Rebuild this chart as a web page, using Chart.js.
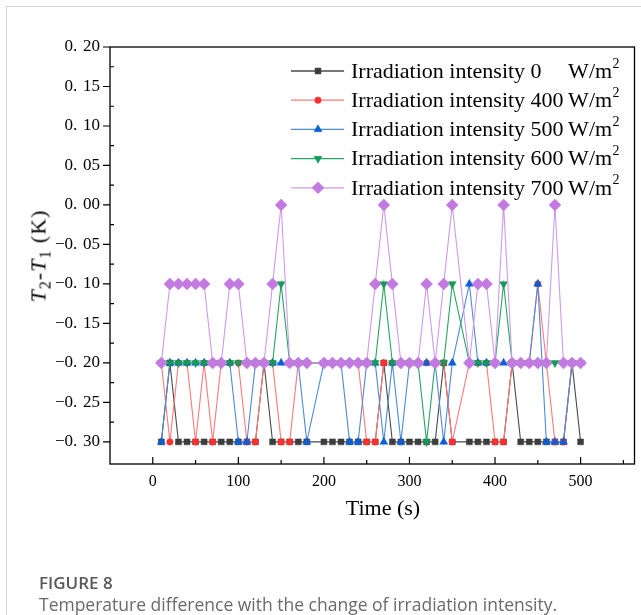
<!DOCTYPE html>
<html>
<head>
<meta charset="utf-8">
<script src="https://cdn.jsdelivr.net/npm/chart.js@4.4.0/dist/chart.umd.min.js"></script>
<style>
  body { margin: 0; background: #fff; }
  #wrap { position: relative; width: 641px; height: 615px; overflow: hidden; background: #fff; }
  #frame { position: absolute; left: 6px; top: 6px; right: -2px; bottom: -2px; border-left: 1px solid #d4d4d4; border-top: 1px solid #d4d4d4; }
  canvas { position: absolute; left: 0; top: 0; }
  .serif { font-family: "Liberation Serif", "Times New Roman", serif; color: #000; position: absolute; white-space: nowrap; }
  #ytitle { left: 40px; top: 256px; font-size: 22px; letter-spacing: 1px; transform: translate(-50%, -50%) rotate(-90deg); }
  #ytitle sub { font-size: 16px; vertical-align: -5px; }
  #xtitle { left: 383px; top: 508px; font-size: 22px; transform: translate(-50%, -50%); }
  #fig { position: absolute; left: 39px; top: 571px; font-family: "Open Sans", sans-serif; font-size: 17px; font-weight: 600; color: #595959; }
  #cap { position: absolute; left: 39px; top: 592px; font-family: "Open Sans", sans-serif; font-size: 17.5px; color: #6a6a6a; white-space: nowrap; }
</style>
</head>
<body>
<div id="wrap">
  <div id="frame"></div>
  <canvas id="chart" width="641" height="615"></canvas>
  <div id="ytitle" class="serif"><i>T</i><sub>2</sub>-<i>T</i><sub>1</sub> (K)</div>
  <div id="xtitle" class="serif">Time (s)</div>
  <div id="fig">FIGURE 8</div>
  <div id="cap">Temperature difference with the change of irradiation intensity.</div>
</div>
<script>
// sample times (s) - no samples at 190 and 360
const times = [10, 20, 30, 40, 50, 60, 70, 80, 90, 100, 110, 120, 130, 140, 150, 160, 170, 180,
  200, 210, 220, 230, 240, 250, 260, 270, 280, 290, 300, 310, 320, 330, 340, 350,
  370, 380, 390, 400, 410, 420, 430, 440, 450, 460, 470, 480, 490, 500];

const irr0 = [-0.3, -0.2, -0.3, -0.3, -0.3, -0.3, -0.3, -0.3, -0.3, -0.3, -0.3, -0.3, -0.2, -0.3, -0.3, -0.3, -0.3, -0.3,
  -0.3, -0.3, -0.3, -0.3, -0.3, -0.3, -0.3, -0.2, -0.3, -0.3, -0.3, -0.3, -0.3, -0.3, -0.2, -0.3,
  -0.3, -0.3, -0.3, -0.3, -0.3, -0.2, -0.3, -0.3, -0.3, -0.3, -0.3, -0.3, -0.2, -0.3];
const irr400 = [-0.2, -0.3, -0.2, -0.2, -0.3, -0.2, -0.3, -0.2, -0.2, -0.2, -0.3, -0.3, -0.2, -0.2, -0.3, -0.3, -0.2, -0.2,
  -0.2, -0.2, -0.2, -0.2, -0.2, -0.3, -0.3, -0.2, -0.2, -0.2, -0.2, -0.2, -0.2, -0.2, -0.2, -0.3,
  -0.2, -0.2, -0.2, -0.3, -0.3, -0.2, -0.2, -0.2, -0.1, -0.2, -0.3, -0.3, -0.2, -0.2];
const irr500 = [-0.3, -0.2, -0.2, -0.2, -0.2, -0.2, -0.2, -0.2, -0.2, -0.3, -0.3, -0.2, -0.2, -0.2, -0.2, -0.2, -0.2, -0.3,
  -0.2, -0.2, -0.2, -0.3, -0.3, -0.2, -0.2, -0.3, -0.2, -0.3, -0.2, -0.2, -0.2, -0.2, -0.3, -0.2,
  -0.1, -0.2, -0.2, -0.2, -0.2, -0.2, -0.2, -0.2, -0.1, -0.3, -0.3, -0.3, -0.2, -0.2];
const irr600 = [-0.2, -0.2, -0.2, -0.2, -0.2, -0.2, -0.2, -0.2, -0.2, -0.2, -0.2, -0.2, -0.2, -0.2, -0.1, -0.2, -0.2, -0.2,
  -0.2, -0.2, -0.2, -0.2, -0.2, -0.2, -0.2, -0.1, -0.2, -0.2, -0.2, -0.2, -0.3, -0.2, -0.2, -0.1,
  -0.2, -0.2, -0.2, -0.2, -0.1, -0.2, -0.2, -0.2, -0.2, -0.2, -0.2, -0.2, -0.2, -0.2];
const irr700 = [-0.2, -0.1, -0.1, -0.1, -0.1, -0.1, -0.2, -0.2, -0.1, -0.1, -0.2, -0.2, -0.2, -0.1, 0.0, -0.2, -0.2, -0.2,
  -0.2, -0.2, -0.2, -0.2, -0.2, -0.2, -0.1, 0.0, -0.1, -0.2, -0.2, -0.2, -0.1, -0.2, -0.1, 0.0,
  -0.2, -0.1, -0.1, -0.2, 0.0, -0.2, -0.2, -0.2, -0.2, -0.2, 0.0, -0.2, -0.2, -0.2];

const seriesLabels = ["0", "400", "500", "600", "700"];
const xTicks = [0, 100, 200, 300, 400, 500];
const yTicks = [0.2, 0.15, 0.1, 0.05, 0, -0.05, -0.1, -0.15, -0.2, -0.25, -0.3];

const serif = "'Liberation Serif', 'Times New Roman', serif";

function pts(values) {
  return times.map((t, i) => ({ x: t, y: values[i] }));
}

function yLabel(v) {
  const s = "0. \u200a" + String(Math.round(Math.abs(v) * 100)).padStart(2, "0");
  return v < -1e-9 ? "\u2212" + s : s;
}

const styles = [
  { line: "#4a4a4a", mark: "#3d3d3d", shape: "rect", r: 4.2, rot: 0 },
  { line: "#ff7a7a", mark: "#ff2f2f", shape: "circle", r: 3.2, rot: 0 },
  { line: "#4f8ad6", mark: "#0b5fd6", shape: "triangle", r: 4.6, rot: 0 },
  { line: "#2aa565", mark: "#139b55", shape: "triangle", r: 4.6, rot: 180 },
  { line: "#cf9ae8", mark: "#c279e0", shape: "rectRot", r: 6, rot: 0 },
];
const allSeries = [irr0, irr400, irr500, irr600, irr700];

const datasets = allSeries.map((vals, i) => ({
  label: "Irradiation intensity " + seriesLabels[i] + " W/m\u00b2",
  data: pts(vals),
  borderColor: styles[i].line,
  backgroundColor: styles[i].mark,
  pointBackgroundColor: styles[i].mark,
  pointBorderColor: styles[i].mark,
  pointBorderWidth: 0.5,
  pointStyle: styles[i].shape,
  pointRadius: styles[i].r,
  pointRotation: styles[i].rot,
  borderWidth: 1.1,
  tension: 0,
  order: 4 - i,
}));

// frame, ticks and legend
const decorPlugin = {
  id: "decor",
  afterDatasetsDraw(chart) {
    const { ctx, chartArea: a, scales } = chart;
    ctx.save();
    ctx.strokeStyle = "#000";
    ctx.lineWidth = 1.3;
    ctx.strokeRect(a.left, a.top, a.right - a.left, a.bottom - a.top);
    ctx.lineWidth = 1.2;
    ctx.beginPath();
    xTicks.forEach((v) => {
      const px = scales.x.getPixelForValue(v);
      ctx.moveTo(px, a.bottom); ctx.lineTo(px, a.bottom - 7);
      const mx = scales.x.getPixelForValue(v + 50);
      if (mx < a.right) { ctx.moveTo(mx, a.bottom); ctx.lineTo(mx, a.bottom - 4); }
    });
    yTicks.forEach((v, i) => {
      const py = scales.y.getPixelForValue(v);
      ctx.moveTo(a.left, py); ctx.lineTo(a.left - 7, py);
      if (i > 0) {
        const my = scales.y.getPixelForValue((v + yTicks[i - 1]) / 2);
        ctx.moveTo(a.left, my); ctx.lineTo(a.left + 4, my);
      }
    });
    ctx.stroke();

    // legend
    const font = "22px " + serif;
    ctx.font = font;
    const textX = 351;
    const wX = textX + ctx.measureText("Irradiation intensity 400 ").width;
    datasets.forEach((ds, i) => {
      const y = 71 + i * 29.2;
      ctx.strokeStyle = styles[i].line;
      ctx.lineWidth = 1.3;
      ctx.beginPath();
      ctx.moveTo(291, y); ctx.lineTo(344, y);
      ctx.stroke();
      ctx.fillStyle = styles[i].mark;
      ctx.strokeStyle = styles[i].mark;
      ctx.lineWidth = 0.5;
      Chart.helpers.drawPoint(ctx, { pointStyle: styles[i].shape, radius: styles[i].r, rotation: styles[i].rot, borderWidth: 0.5 }, 318, y);
      ctx.fillStyle = "#000";
      ctx.font = font;
      ctx.textBaseline = "middle";
      ctx.textAlign = "left";
      ctx.fillText("Irradiation intensity " + seriesLabels[i], textX, y + 1);
      ctx.fillText("W/m", wX - 1, y + 1);
      const mw = ctx.measureText("W/m").width;
      ctx.font = "14px " + serif;
      ctx.fillText("2", wX - 1 + mw + 0.5, y - 7);
    });
    ctx.restore();
  },
};

new Chart(document.getElementById("chart"), {
  type: "line",
  data: { datasets },
  plugins: [decorPlugin],
  options: {
    responsive: false,
    animation: false,
    devicePixelRatio: 1,
    layout: { padding: { left: 0, top: 47, right: 5, bottom: 121 } },
    plugins: { legend: { display: false }, tooltip: { enabled: false }, title: { display: false } },
    scales: {
      x: {
        type: "linear",
        min: -50,
        max: 563,
        afterFit: (s) => { s.height = 30; },
        afterBuildTicks: (s) => { s.ticks = xTicks.map((v) => ({ value: v })); },
        grid: { display: false, drawTicks: false },
        border: { display: false },
        ticks: { color: "#000", padding: 8, font: { family: serif, size: 16 }, maxRotation: 0 },
      },
      y: {
        type: "linear",
        min: -0.328,
        max: 0.2,
        afterFit: (s) => { s.width = 110; },
        afterBuildTicks: (s) => { s.ticks = yTicks.map((v) => ({ value: v })); },
        grid: { display: false, drawTicks: false },
        border: { display: false },
        ticks: { color: "#000", padding: 10, font: { family: serif, size: 17 }, callback: (v) => yLabel(v) },
      },
    },
  },
});
</script>
</body>
</html>
